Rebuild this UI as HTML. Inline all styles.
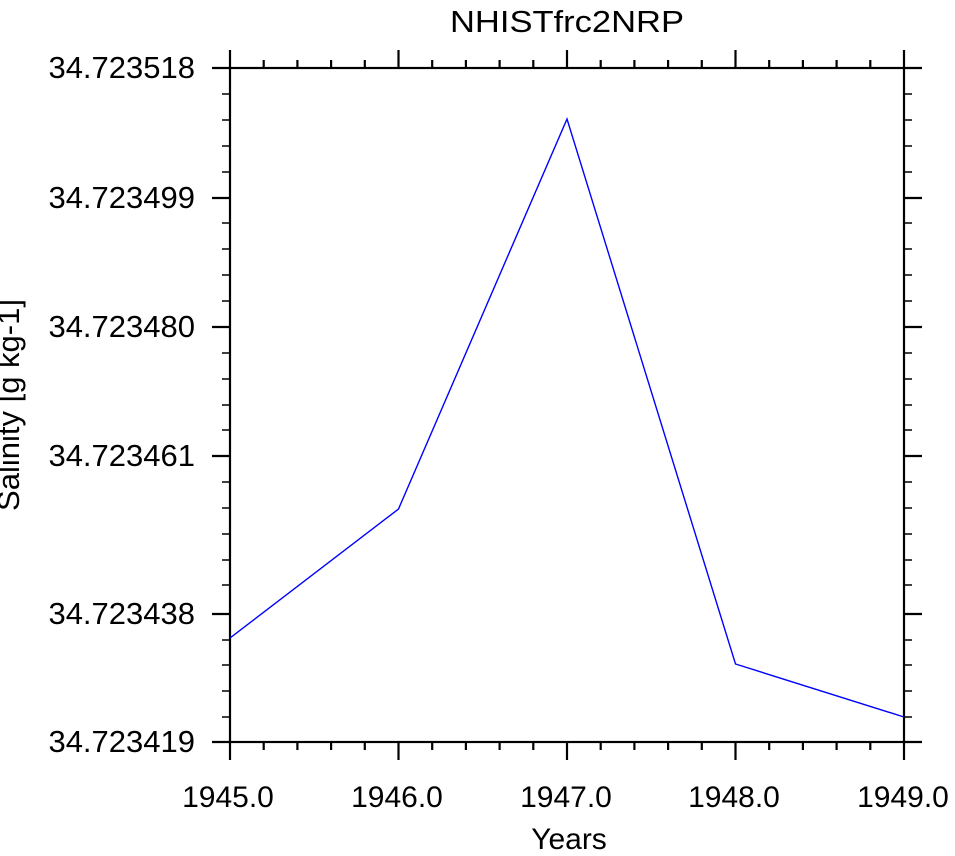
<!DOCTYPE html>
<html><head><style>body{margin:0;background:#fff}svg{display:block}</style></head><body>
<svg width="955" height="856" xmlns="http://www.w3.org/2000/svg" font-family="Liberation Sans, sans-serif">
<rect width="955" height="856" fill="#fff"/>
<text x="567" y="32" font-size="31" text-anchor="middle" textLength="234" lengthAdjust="spacingAndGlyphs">NHISTfrc2NRP</text>
<g stroke="#000" stroke-width="2.2" fill="none">
<rect x="230" y="68" width="674" height="674"/>
<path d="
M230,742V760 M398.5,742V760 M567,742V760 M735.5,742V760 M904,742V760
M230,68V50 M398.5,68V50 M567,68V50 M735.5,68V50 M904,68V50
M263.7,742V750 M297.4,742V750 M331.1,742V750 M364.8,742V750
M432.2,742V750 M465.9,742V750 M499.6,742V750 M533.3,742V750
M600.7,742V750 M634.4,742V750 M668.1,742V750 M701.8,742V750
M769.2,742V750 M802.9,742V750 M836.6,742V750 M870.3,742V750
M263.7,68V60 M297.4,68V60 M331.1,68V60 M364.8,68V60
M432.2,68V60 M465.9,68V60 M499.6,68V60 M533.3,68V60
M600.7,68V60 M634.4,68V60 M668.1,68V60 M701.8,68V60
M769.2,68V60 M802.9,68V60 M836.6,68V60 M870.3,68V60
M212,68H230 M212,198H230 M212,327H230 M212,456H230 M212,614H230 M212,742H230
M904,68H922 M904,198H922 M904,327H922 M904,456H922 M904,614H922 M904,742H922"/>
</g>
<g stroke="#000" stroke-width="1.6">
<path d="M222,94H230 M222,120H230 M222,146H230 M222,172H230 M222,223H230 M222,249H230 M222,275H230 M222,301H230 M222,353H230 M222,379H230 M222,405H230 M222,430H230 M222,482H230 M222,508H230 M222,534H230 M222,560H230 M222,585H230 M222,640H230 M222,665H230 M222,691H230 M222,717H230
M904,94H912 M904,120H912 M904,146H912 M904,172H912 M904,223H912 M904,249H912 M904,275H912 M904,301H912 M904,353H912 M904,379H912 M904,405H912 M904,430H912 M904,482H912 M904,508H912 M904,534H912 M904,560H912 M904,585H912 M904,640H912 M904,665H912 M904,691H912 M904,717H912"/>
</g>
<polyline points="230,638 398.5,509 567,119 735.5,664 904,717" fill="none" stroke="#0000ff" stroke-width="1.4"/>
<g font-size="31" text-anchor="end">
<text x="195" y="78">34.723518</text>
<text x="195" y="208">34.723499</text>
<text x="195" y="337">34.723480</text>
<text x="195" y="466">34.723461</text>
<text x="195" y="624">34.723438</text>
<text x="195" y="752">34.723419</text>
</g>
<g font-size="30" text-anchor="middle">
<text x="228" y="807">1945.0</text>
<text x="397" y="807">1946.0</text>
<text x="566" y="807">1947.0</text>
<text x="734" y="807">1948.0</text>
<text x="903" y="807">1949.0</text>
<text x="569" y="849">Years</text>
<text transform="translate(19,405) rotate(-90)" font-size="31">Salinity [g kg-1]</text>
</g>
</svg>
</body></html>
